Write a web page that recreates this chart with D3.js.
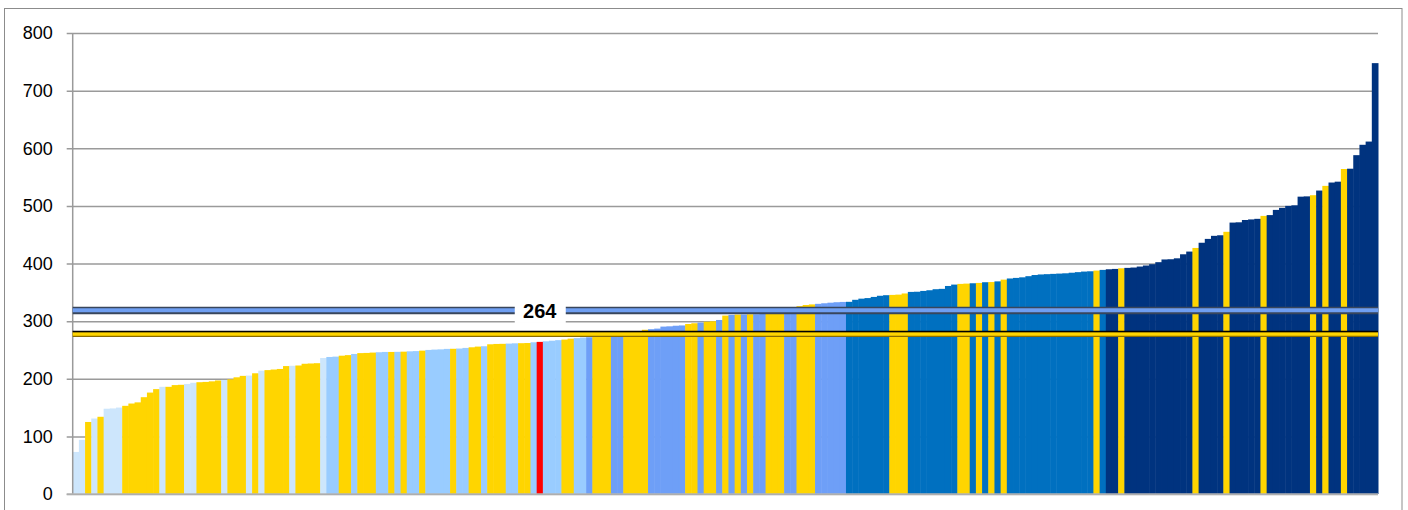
<!DOCTYPE html>
<html>
<head>
<meta charset="utf-8">
<script src="https://cdn.jsdelivr.net/npm/d3@7"></script>
<style>
  html, body { margin: 0; padding: 0; background: #fff; overflow: hidden; }
  #vis { width: 1408px; height: 510px; }
</style>
</head>
<body>
<div id="vis"></div>
<script>
// values, sorted ascending
var values = [
  73, 94, 125, 131, 134, 148, 148.5, 150, 153, 157,
  159, 168, 176, 182, 186, 186, 189, 189.5, 191, 193,
  194, 194.5, 195.5, 197, 198, 199, 202.5, 205, 205.5, 209.5,
  214, 215, 216, 217, 222, 222.5, 223, 226, 226.5, 227,
  236, 237.8, 238.4, 240, 241, 243, 244.5, 244.8, 245.4, 246,
  246.5, 246.5, 246.7, 247, 247.6, 248, 248.8, 250, 250.6, 251,
  251.8, 252, 252.4, 253.5, 254.6, 255.8, 256.4, 259.8, 260.4, 260.6,
  261, 261.5, 261.7, 262, 263.3, 264, 265, 266, 267, 268,
  269.6, 270.5, 271.5, 272, 273, 274, 275, 276, 277, 278,
  280, 282, 285, 286, 287, 290.5, 291, 292, 292.5, 295,
  296.3, 297.4, 299, 299.8, 302, 309.6, 310.8, 311.3, 311.5, 311.8,
  312, 312.5, 313, 314, 315, 316, 318, 326, 328, 329,
  330, 331, 332, 332.8, 333.3, 333.5, 337, 339, 340, 342,
  344, 345, 345.5, 346, 348, 350.7, 351, 352.4, 353.6, 355.4,
  356, 361, 363.4, 364.6, 365.1, 365.7, 366.3, 367.5, 367.8, 369,
  372, 374, 375, 376, 378, 380, 381, 381.5, 382, 382.5,
  383, 384, 385, 386, 386.5, 387.7, 388.9, 390, 390.6, 391.7,
  392.4, 393, 394.7, 396.5, 398.8, 402.3, 407, 407.4, 409, 416,
  420.7, 427, 436, 442.7, 448, 449, 455, 471, 471.5, 475.5,
  476.5, 477.5, 482.6, 484, 493, 496.5, 500, 501, 516, 516.5,
  518.5, 526.6, 534.7, 540.5, 542, 564, 564.5, 588, 606, 611.6,
  747.7
];

// group of each bar (L light, S sky, C cornflower, B blue, N navy, Y yellow, R highlighted)
var groups = (
  "LLYLYLLLYY" + "YYYYLYYYLL" + "YYYYLYYYLY" + "LYYYYLYYYY" +
  "LSSYYSYYYS" + "SYSYSSYSSS" + "SYSSYYSYYY" + "SSYYSRSSSY" +
  "YSSCYYYCCY" + "YYYCCCCCCY" + "YCYYCYCYCY" + "CCYYYCCYYY" +
  "CCCCCBBBBB" + "BBYYYBBBBB" + "BBBYYBYBYB" + "YBBBBBBBBB" +
  "BBBBBYBNNY" + "NNNNNNNNNN" + "NYNNNNYNNN" + "NNYNNNNNNN" +
  "YNYNNYNNNN" + "N"
).split("");

var groupColors = {
  L: "#cde6fc", S: "#99ccff", C: "#6e9ff7", B: "#0070c0",
  N: "#00337f", Y: "#ffd500", R: "#ff0000"
};

var yTicks = [0, 100, 200, 300, 400, 500, 600, 700, 800];
var blueLineValue = 318.5;
var yellowLineValue = 277.5;
var highlightLabel = "264";

var width = 1408, height = 510;
var plot = {left: 72.7, right: 1378, top: 33, bottom: 494};

var svg = d3.select("#vis").append("svg")
    .attr("width", width)
    .attr("height", height);

// outer chart frame
svg.append("rect")
    .attr("x", 4.5).attr("y", 8.5)
    .attr("width", 1397.5).attr("height", 520)
    .attr("fill", "none")
    .attr("stroke", "#8c8c8c")
    .attr("stroke-width", 1);

var x = d3.scaleBand()
    .domain(d3.range(values.length))
    .range([plot.left, plot.right])
    .paddingInner(0).paddingOuter(0);

var y = d3.scaleLinear()
    .domain([0, 800])
    .range([plot.bottom, plot.top]);

// gridlines + axis
var yAxis = d3.axisLeft(y)
    .tickValues(yTicks)
    .tickSize(-(plot.right - plot.left))
    .tickSizeOuter(0)
    .tickPadding(20);

var gAxis = svg.append("g")
    .attr("transform", "translate(" + plot.left + ",0)")
    .call(yAxis);
gAxis.select(".domain").remove();
gAxis.selectAll(".tick line")
    .attr("x1", -6)
    .attr("stroke", "#9a9a9a")
    .attr("stroke-width", 1.5);
gAxis.selectAll(".tick text")
    .attr("x", -20)
    .style("font-family", "'Liberation Sans', Arial, sans-serif")
    .style("font-size", "18px")
    .attr("fill", "#000");

// bars
svg.append("g").selectAll("rect")
    .data(values)
    .enter()
    .append("rect")
      .attr("x", function(d, i) { return x(i); })
      .attr("y", function(d) { return y(d); })
      .attr("width", x.bandwidth() + 0.5)
      .attr("height", function(d) { return y(0) - y(d); })
      .attr("fill", function(d, i) { return groupColors[groups[i]]; });

// left axis line on top of bars
svg.append("line")
    .attr("x1", plot.left).attr("x2", plot.left)
    .attr("y1", plot.top).attr("y2", plot.bottom)
    .attr("stroke", "#9a9a9a").attr("stroke-width", 1.5);
svg.append("line")
    .attr("x1", plot.left - 6).attr("x2", plot.right)
    .attr("y1", plot.bottom).attr("y2", plot.bottom)
    .attr("stroke", "#b4b4b4").attr("stroke-width", 1.5);

// reference lines
var yl = y(yellowLineValue);
svg.append("line")
    .attr("x1", plot.left).attr("x2", plot.right)
    .attr("y1", yl).attr("y2", yl)
    .attr("stroke", "#8a6d00").attr("stroke-width", 6);
svg.append("line")
    .attr("x1", plot.left).attr("x2", plot.right)
    .attr("y1", yl).attr("y2", yl)
    .attr("stroke", "#ffd500").attr("stroke-width", 3.5);
svg.append("line")
    .attr("x1", plot.left).attr("x2", plot.right)
    .attr("y1", yl - 2.6).attr("y2", yl - 2.6)
    .attr("stroke", "#000").attr("stroke-width", 1.4);

var bl = y(blueLineValue);
svg.append("line")
    .attr("x1", plot.left).attr("x2", plot.right)
    .attr("y1", bl).attr("y2", bl)
    .attr("stroke", "#38465c").attr("stroke-width", 7.5);
svg.append("line")
    .attr("x1", plot.left).attr("x2", plot.right)
    .attr("y1", bl - 0.3).attr("y2", bl - 0.3)
    .attr("stroke", "#6f9ff2").attr("stroke-width", 4);

// label for the highlighted bar
var ri = groups.indexOf("R");
var lx = x(ri) + x.bandwidth() / 2;
svg.append("rect")
    .attr("x", lx - 25).attr("y", bl - 10.5)
    .attr("width", 51).attr("height", 23)
    .attr("fill", "#fff");
svg.append("text")
    .attr("x", lx)
    .attr("y", bl + 7.5)
    .attr("text-anchor", "middle")
    .style("font-family", "'Liberation Sans', Arial, sans-serif")
    .style("font-weight", "bold")
    .style("font-size", "20px")
    .text(highlightLabel);
</script>
</body>
</html>
